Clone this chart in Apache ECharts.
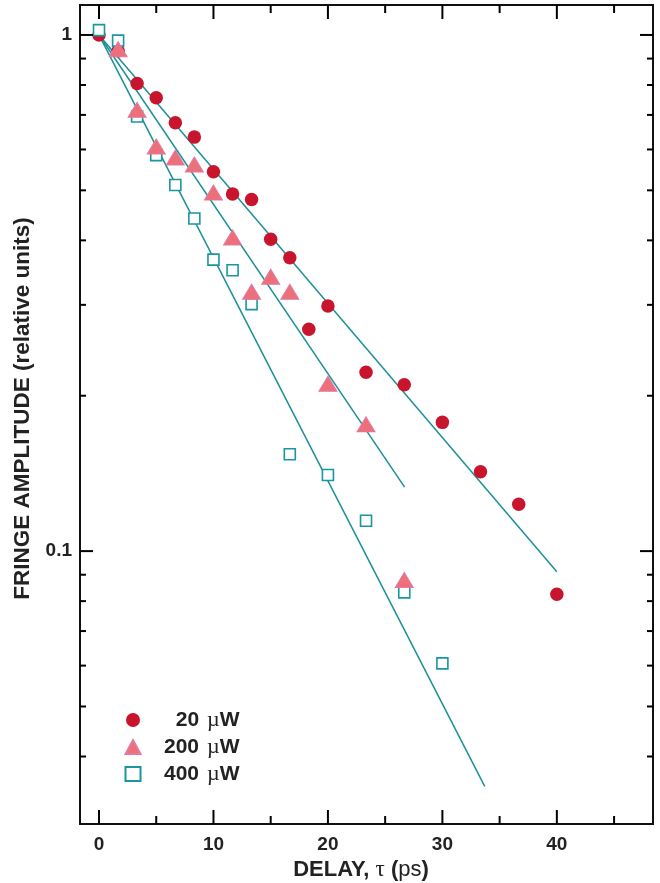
<!DOCTYPE html>
<html>
<head>
<meta charset="utf-8">
<script src="https://cdn.jsdelivr.net/npm/echarts@6/dist/echarts.min.js"></script>
<style>
html,body{margin:0;padding:0;background:#fff;}
#chart{width:660px;height:883px;}
</style>
</head>
<body>
<div id="chart"></div>
<script>
// ---- data ----
const seriesNames = ['20 µW', '200 µW', '400 µW'];

const delay20 = [0, 1.67, 3.33, 5, 6.67, 8.33, 10, 11.67, 13.33, 15, 16.67, 18.33, 20, 23.33, 26.67, 30, 33.33, 36.67, 40];
const amp20   = [1.0, 0.932, 0.805, 0.756, 0.676, 0.634, 0.543, 0.492, 0.480, 0.402, 0.370, 0.269, 0.2985, 0.222, 0.210, 0.1776, 0.1425, 0.1233, 0.0825];

const delay200 = [1.67, 3.33, 5, 6.67, 8.33, 10, 11.67, 13.33, 15, 16.67, 20, 23.33, 26.67];
const amp200   = [0.938, 0.716, 0.608, 0.579, 0.561, 0.495, 0.405, 0.318, 0.340, 0.318, 0.211, 0.176, 0.0879];

const delay400 = [0, 1.67, 3.33, 5, 6.67, 8.33, 10, 11.67, 13.33, 16.67, 20, 23.33, 26.67, 30];
const amp400   = [1.022, 0.975, 0.695, 0.585, 0.512, 0.441, 0.367, 0.350, 0.301, 0.154, 0.1404, 0.1145, 0.0832, 0.0606];

// fitted lines (end points)
const fit20Delay  = [0, 40];    const fit20Amp  = [1.0, 0.0912];
const fit200Delay = [0, 26.7];  const fit200Amp = [1.0, 0.133];
const fit400Delay = [0, 33.7];  const fit400Amp = [1.0, 0.035];

// axes
const xMin = -1.66, xMax = 48.4;
const yMin = 0.0296, yMax = 1.143;
const xMajorTicks = [0, 10, 20, 30, 40];
const xMinorTicks = [5, 15, 25, 35, 45];
const yMajorTicks = [0.1, 1];
const yMinorTicks = [0.04, 0.05, 0.06, 0.07, 0.08, 0.09, 0.2, 0.3, 0.4, 0.5, 0.6, 0.7, 0.8, 0.9];

// ---- build ----
const zip = (a, b) => a.map((v, i) => [v, b[i]]);
const FONT = "'Liberation Sans', Arial, Helvetica, sans-serif";
const SERIF = "'Liberation Serif', 'DejaVu Serif', serif";
const TEAL = '#1b9099';

function xTicks(len) {
  return function (params, api) {
    const v = api.value(0);
    const b = api.coord([v, yMin]);
    const t = api.coord([v, yMax]);
    return { type: 'group', children: [
      { type: 'line', shape: { x1: b[0], y1: b[1], x2: b[0], y2: b[1] - len }, style: { stroke: '#000', lineWidth: 2 } },
      { type: 'line', shape: { x1: t[0], y1: t[1], x2: t[0], y2: t[1] + len }, style: { stroke: '#000', lineWidth: 2 } }
    ]};
  };
}
function yTicks(len) {
  return function (params, api) {
    const v = api.value(1);
    const l = api.coord([xMin, v]);
    const r = api.coord([xMax, v]);
    return { type: 'group', children: [
      { type: 'line', shape: { x1: l[0], y1: l[1], x2: l[0] + len, y2: l[1] }, style: { stroke: '#000', lineWidth: 2 } },
      { type: 'line', shape: { x1: r[0], y1: r[1], x2: r[0] - len, y2: r[1] }, style: { stroke: '#000', lineWidth: 2 } }
    ]};
  };
}
function fitLine(name, xs, ys) {
  return { type: 'line', name: name + ' fit', data: zip(xs, ys), symbol: 'none', silent: true,
    lineStyle: { color: TEAL, width: 1.5 }, z: 2, animation: false };
}

const chart = echarts.init(document.getElementById('chart'), null, { renderer: 'canvas' });
chart.setOption({
  animation: false,
  backgroundColor: '#fff',
  grid: { left: 80, right: 7, top: 5, bottom: 59, show: true, containLabel: false, outerBoundsMode: 'none',
    borderColor: '#111', borderWidth: 2, backgroundColor: 'transparent' },
  xAxis: {
    type: 'value', min: xMin, max: xMax,
    axisLine: { show: false }, axisTick: { show: false }, splitLine: { show: false },
    axisLabel: {
      formatter: v => (xMajorTicks.some(t => Math.abs(t - v) < 1e-6) ? String(Math.round(v)) : ''),
      color: '#222', fontFamily: FONT, fontWeight: 'bold', fontSize: 19, margin: 11
    },
    name: '{b|DELAY, }{t|τ}{b| (}{n|ps}{b|)}',
    nameLocation: 'middle', nameGap: 33,
    nameTextStyle: {
      padding: [0, 11, 0, 0],
      rich: {
        b: { fontFamily: FONT, fontWeight: 'bold', fontSize: 22, color: '#222' },
        t: { fontFamily: SERIF, fontSize: 23, color: '#222' },
        n: { fontFamily: FONT, fontSize: 22, color: '#222' }
      }
    }
  },
  yAxis: {
    type: 'log', min: yMin, max: yMax, logBase: 10,
    axisLine: { show: false }, axisTick: { show: false }, splitLine: { show: false },
    axisLabel: {
      formatter: v => (yMajorTicks.some(t => Math.abs(v - t) < 1e-6 * t) ? String(v >= 1 ? 1 : 0.1) : ''),
      color: '#222', fontFamily: FONT, fontWeight: 'bold', fontSize: 19, margin: 8
    },
    name: 'FRINGE AMPLITUDE (relative units)',
    nameLocation: 'middle', nameGap: 42, nameRotate: 90,
    nameTextStyle: { fontFamily: FONT, fontWeight: 'bold', fontSize: 22.5, color: '#222', padding: [0, 0, 0, 12] }
  },
  legend: {
    data: seriesNames,
    orient: 'vertical', left: 119.5, top: 704,
    itemWidth: 15, itemHeight: 14, itemGap: 5,
    selectedMode: false,
    formatter: name => {
      const parts = name.split(' ');
      const key = parts[0].length === 2 ? 'num2' : 'num3';
      return '{' + key + '|' + parts[0] + '}{mu|µ}{w|W}';
    },
    textStyle: {
      rich: {
        num3: { fontFamily: FONT, fontWeight: 'bold', fontSize: 21, color: '#222', padding: [0, 8, 0, 18.5] },
        num2: { fontFamily: FONT, fontWeight: 'bold', fontSize: 21, color: '#222', padding: [0, 8, 0, 30.2] },
        mu: { fontFamily: SERIF, fontSize: 22, color: '#222' },
        w: { fontFamily: FONT, fontWeight: 'bold', fontSize: 21, color: '#222' }
      }
    }
  },
  series: [
    fitLine('20', fit20Delay, fit20Amp),
    fitLine('200', fit200Delay, fit200Amp),
    fitLine('400', fit400Delay, fit400Amp),
    { type: 'scatter', name: seriesNames[0], data: zip(delay20, amp20), symbol: 'circle', symbolSize: 13.5,
      itemStyle: { color: '#c8152d', opacity: 1 }, z: 3 },
    { type: 'scatter', name: seriesNames[2], data: zip(delay400, amp400), symbol: 'rect', symbolSize: 11,
      itemStyle: { color: '#fff', borderColor: '#1a96a0', borderWidth: 1.6, opacity: 1 }, z: 4 },
    { type: 'scatter', name: seriesNames[1], data: zip(delay200, amp200), symbol: 'triangle', symbolSize: [18, 15],
      itemStyle: { color: '#ec6f7a', borderColor: '#e27aa2', borderWidth: 1, opacity: 1 }, z: 5 },
    { type: 'custom', name: 'xMajor', data: xMajorTicks.map(v => [v, yMin]), renderItem: xTicks(14), clip: false, silent: true, z: 10 },
    { type: 'custom', name: 'xMinor', data: xMinorTicks.map(v => [v, yMin]), renderItem: xTicks(8), clip: false, silent: true, z: 10 },
    { type: 'custom', name: 'yMajor', data: yMajorTicks.map(v => [xMin, v]), renderItem: yTicks(13), clip: false, silent: true, z: 10 },
    { type: 'custom', name: 'yMinor', data: yMinorTicks.map(v => [xMin, v]), renderItem: yTicks(6), clip: false, silent: true, z: 10 }
  ]
});
</script>
</body>
</html>
